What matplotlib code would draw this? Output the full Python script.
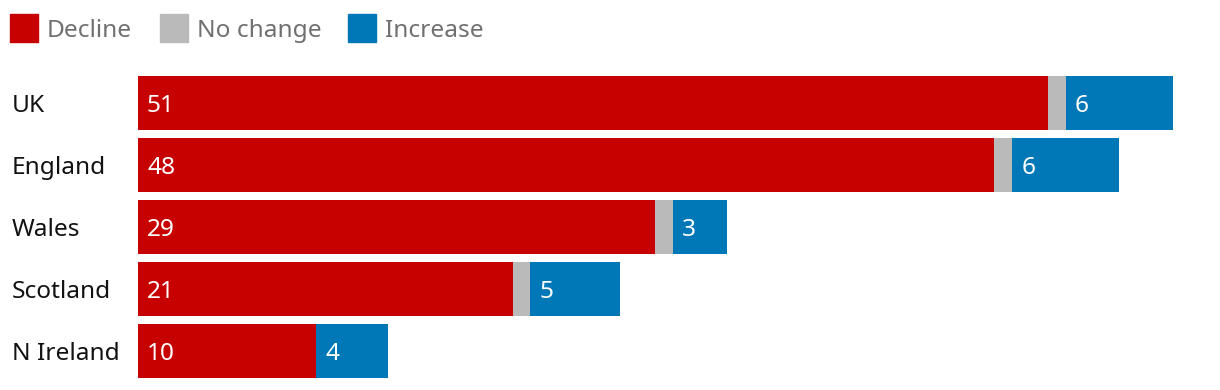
import numpy as np
import matplotlib
import matplotlib.pyplot as plt
from matplotlib.transforms import blended_transform_factory
from matplotlib.patches import Rectangle

matplotlib.rcParams['font.family'] = 'Noto Sans'

regions = ['UK', 'England', 'Wales', 'Scotland', 'N Ireland']
decline = [51, 48, 29, 21, 10]
no_change = [1, 1, 1, 1, 0]
increase = [6, 6, 3, 5, 4]

red = '#c70000'
grey = '#bababa'
blue = '#0077b6'
f = 17.6

W, H = 1220, 390
fig = plt.figure(figsize=(W / 100, H / 100), dpi=100)
ax = fig.add_axes([138 / W, (H - 382) / H, (W - 138) / W, 310 / H])

y = np.arange(len(regions))
dec = np.array(decline)
nc = np.array(no_change)
inc = np.array(increase)
h = 0.87
ax.barh(y, dec, height=h, color=red)
ax.barh(y, nc, left=dec, height=h, color=grey)
ax.barh(y, inc, left=dec + nc, height=h, color=blue)

# text baseline sits half a cap height below bar centre
for i in range(len(regions)):
    ax.annotate(str(decline[i]), (0, y[i]), xytext=(9, -8.5), textcoords='offset pixels',
                color='white', fontsize=f, va='baseline', ha='left')
    ax.annotate(str(increase[i]), (dec[i] + nc[i], y[i]), xytext=(9, -8.5), textcoords='offset pixels',
                color='white', fontsize=f, va='baseline', ha='left')

tr = blended_transform_factory(fig.transFigure, ax.transData)
for i, r in enumerate(regions):
    ax.annotate(r, (12 / W, y[i]), xycoords=tr, xytext=(0, -8.5), textcoords='offset pixels',
                fontsize=f, color='#121212', va='baseline', ha='left')

ax.set_xlim(0, (W - 138) / 17.84)
ax.set_ylim(len(regions) - 0.5, -0.5)
ax.axis('off')

# legend
legend = [('Decline', red, 10, 47), ('No change', grey, 160, 197), ('Increase', blue, 348, 385)]
for name, c, sx, tx in legend:
    fig.patches.append(Rectangle((sx / W, (H - 42) / H), 28 / W, 28 / H,
                                 transform=fig.transFigure, color=c))
    fig.text(tx / W, (H - 37) / H, name, fontsize=f, color='#707070', va='baseline', ha='left')

fig.savefig('out.png', dpi=100)
